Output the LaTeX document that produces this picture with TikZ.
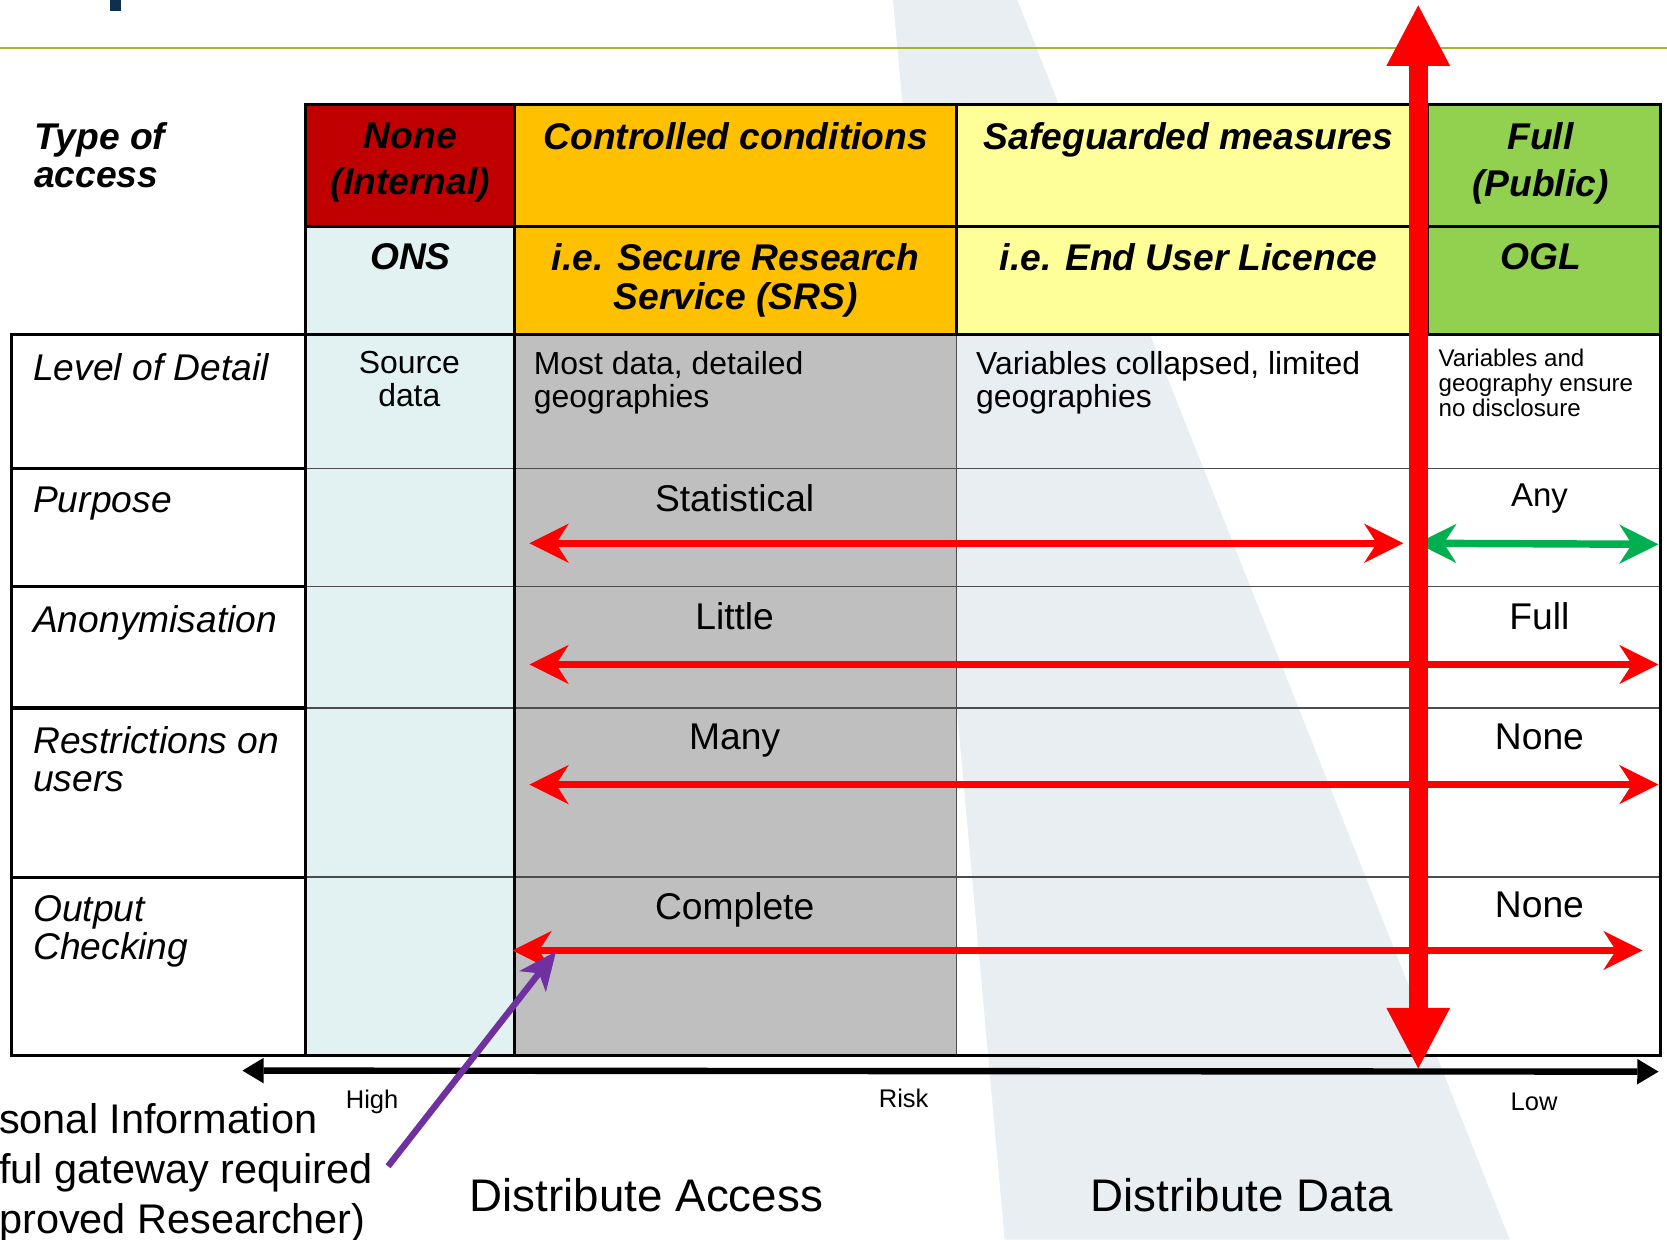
\documentclass[tikz,border=0pt]{standalone}
\usepackage{fontspec}
\setmainfont{Liberation Sans}
\usetikzlibrary{arrows.meta}

\definecolor{nonered}{HTML}{C00000}
\definecolor{ctrlorange}{HTML}{FFC000}
\definecolor{safeyellow}{HTML}{FFFF99}
\definecolor{fullgreen}{HTML}{92D050}
\definecolor{onscyan}{HTML}{E2F2F3}
\definecolor{srsgray}{HTML}{BFBFBF}
\definecolor{arrowred}{HTML}{FF0000}
\definecolor{arrowgreen}{HTML}{00B050}
\definecolor{gatepurple}{HTML}{7030A0}
\definecolor{rulegreen}{HTML}{A2B53A}
\definecolor{logonavy}{HTML}{0E2F4E}
\definecolor{watermark}{HTML}{E9EEF3}

\begin{document}
\begin{tikzpicture}[x=1pt, y=-1pt,
        hdr/.style={font=\fontsize{35}{44}\selectfont\bfseries\itshape, align=center, anchor=north, inner sep=0pt},
        rowlabel/.style={font=\fontsize{35}{36}\selectfont\itshape, align=left, anchor=north west, inner sep=0pt},
        cell/.style={font=\fontsize{35}{36}\selectfont, align=center, anchor=north, inner sep=0pt},
        celltext/.style={font=\fontsize{30}{31}\selectfont, align=left, anchor=north west, inner sep=0pt},
        risk/.style={font=\fontsize{24}{26}\selectfont, anchor=base, inner sep=0pt},
        note/.style={font=\fontsize{39}{47}\selectfont, anchor=base west, inner sep=0pt},
        mode/.style={font=\fontsize{43}{50}\selectfont, anchor=base, inner sep=0pt},
        heavy/.style={line width=3pt, line cap=rect},
        light/.style={line width=1.2pt, draw=black!70},
        flow/.style={line width=7pt, draw=arrowred, <->,
            >={Stealth[length=37pt, width=37pt, inset=12pt, line width=0pt]}},
    ]
    \useasboundingbox (0,0) rectangle (1568,1166);

    % background
    \fill[watermark] (840,0) -- (957,0) -- (1420,1166) -- (945,1166) -- cycle;
    \fill[logonavy] (103,0) rectangle (114,10);
    \draw[rulegreen, line width=2pt] (0,45) -- (1568,45);

    % header cells
    \fill[nonered] (287,98) rectangle (484,213);
    \fill[ctrlorange] (484,98) rectangle (900,315);
    \fill[safeyellow] (900,98) rectangle (1343,315);
    \fill[fullgreen] (1343,98) rectangle (1562,315);
    \fill[onscyan] (287,213) rectangle (484,315);

    % body cells
    \fill[white] (11,315) rectangle (287,993);
    \fill[onscyan] (287,315) rectangle (484,993);
    \fill[srsgray] (484,315) rectangle (900,993);
    \fill[white] (1343,315) rectangle (1562,993);

    % rules
    \foreach \y in {441,552,666,825}
        \draw[light] (287,\y) -- (1562,\y);
    \draw[light] (900,315) -- (900,993);
    \foreach \y in {441,552,666,825}
        \draw[heavy] (11,\y) -- (287,\y);
    \draw[heavy] (287,98) rectangle (1562,315);
    \draw[heavy] (287,213) -- (1562,213);
    \foreach \x in {484,900,1343}
        \draw[heavy] (\x,98) -- (\x,315);
    \draw[heavy] (11,315) rectangle (1562,993);
    \draw[heavy] (287,315) -- (287,993);
    \draw[heavy] (484,315) -- (484,993);

    % headings
    \node[hdr, anchor=north west, align=left] (type) at (32,115) {Type of\\[-8pt]access};
    \node[hdr] (none) at (386,115) {None\\(Internal)};
    \node[hdr] (controlled) at (692,115) {Controlled conditions};
    \node[hdr] (safeguarded) at (1118,115) {Safeguarded measures};
    \node[hdr] (full) at (1449,115) {Full\\(Public)};
    \node[hdr] (ons) at (386,229) {ONS};
    \node[hdr] (srs) at (692,229) {i.e. Secure Research\\[-7pt]Service (SRS)};
    \node[hdr] (eul) at (1118,229) {i.e. End User Licence};
    \node[hdr] (ogl) at (1449,229) {OGL};

    % row labels
    \node[rowlabel] (detail) at (31,332) {Level of Detail};
    \node[rowlabel] (purpose) at (31,458) {Purpose};
    \node[rowlabel] (anon) at (31,569) {Anonymisation};
    \node[rowlabel] (restrict) at (31,683) {Restrictions on\\users};
    \node[rowlabel] (output) at (31,842) {Output\\Checking};

    % cell texts
    \node[cell, font=\fontsize{30}{31}\selectfont] (source) at (385,330) {Source\\data};
    \node[celltext] (most) at (502,330) {Most data, detailed\\geographies};
    \node[celltext] (collapsed) at (918,330) {Variables collapsed, limited\\geographies};
    \node[celltext, font=\fontsize{22.7}{23.5}\selectfont] (nodisc) at (1353,328)
        {Variables and\\geography ensure\\no disclosure};
    \node[cell] (statistical) at (691,456) {Statistical};
    \node[cell, font=\fontsize{31}{32}\selectfont] (any) at (1448,455) {Any};
    \node[cell] (little) at (691,567) {Little};
    \node[cell] (fullanon) at (1448,567) {Full};
    \node[cell] (many) at (691,681) {Many};
    \node[cell] (nonerestrict) at (1448,681) {None};
    \node[cell] (complete) at (691,839) {Complete};
    \node[cell] (nonecheck) at (1448,839) {None};

    % arrow ends
    \coordinate (purpose w) at (498,511);
    \coordinate (purpose e) at (1320,511);
    \coordinate (public w) at (1333,511);
    \coordinate (public e) at (1560,512);
    \coordinate (anon w) at (498,625);
    \coordinate (anon e) at (1560,625);
    \coordinate (restrict w) at (498,738);
    \coordinate (restrict e) at (1560,738);
    \coordinate (output w) at (482,894);
    \coordinate (output e) at (1545,894);
    \coordinate (access top) at (1334,5);
    \coordinate (access bottom) at (1334,1005);
    \coordinate (high) at (228,1007);
    \coordinate (low) at (1560,1008);
    \coordinate (gateway) at (365,1097);
    \coordinate (gateway tip) at (523,895);

    \draw[flow] (purpose w) -- (purpose e);
    \draw[flow, draw=arrowgreen] (public w) -- (public e);
    \draw[flow] (anon w) -- (anon e);
    \draw[flow] (restrict w) -- (restrict e);
    \draw[flow] (output w) -- (output e);
    \draw[line width=6pt, {Triangle[length=20pt, width=24pt, line width=0pt]}-{Triangle[length=20pt, width=24pt, line width=0pt]}]
        (high) -- (low);
    \draw[arrowred, line width=18pt, {Triangle[length=57pt, width=60pt, line width=0pt]}-{Triangle[length=57pt, width=60pt, line width=0pt]}]
        (access top) -- (access bottom);
    \draw[gatepurple, line width=6pt, -{Stealth[length=36pt, width=32pt, inset=10pt, line width=0pt]}]
        (gateway) -- (gateway tip);

    % risk scale and notes
    \node[risk] (highlbl) at (350,1043) {High};
    \node[risk] (risklbl) at (850,1042) {Risk};
    \node[risk] (lowlbl) at (1443,1045) {Low};
    \node[note] (personal) at (-1,1066) {sonal Information};
    \node[note] (lawful) at (-1,1113) {ful gateway required};
    \node[note] (approved) at (-1,1160) {proved Researcher)};
    \node[mode] (daccess) at (608,1140) {Distribute Access};
    \node[mode] (ddata) at (1168,1140) {Distribute Data};
\end{tikzpicture}
\end{document}
